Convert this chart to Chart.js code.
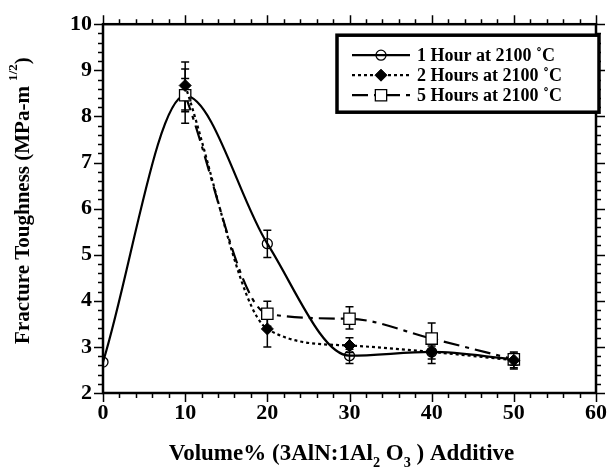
<!DOCTYPE html>
<html>
<head>
<meta charset="utf-8">
<script src="https://cdn.jsdelivr.net/npm/chart.js@4.4.0/dist/chart.umd.min.js"></script>
<style>
    html, body { margin: 0; padding: 0; background: #fff; }
    #wrap { width: 614px; height: 467px; }
</style>
</head>
<body>
<div id="wrap"><canvas id="toughnessChart"></canvas></div>
<script>
// --- data ---
const additive = [0, 10, 20, 30, 40, 50];
const seriesLabels = ['1 Hour at 2100 \u02DAC', '2 Hours at 2100 \u02DAC', '5 Hours at 2100 \u02DAC'];

const oneHour = [2.67, 8.45, 5.24, 2.81, 2.89, 2.73];
const oneHourErr = [null, [8.14, 8.82], [4.94, 5.53], [2.64, 2.95], [2.74, 3.02], [2.6, 2.86]];

const twoHours = [null, 8.67, 3.39, 3.03, 2.89, 2.71];
const twoHoursErr = [null, [7.85, 9.18], [3.0, 3.7], [2.88, 3.2], [2.64, 3.08], [2.55, 2.85]];

const fiveHours = [null, 8.46, 3.72, 3.61, 3.18, 2.73];
const fiveHoursErr = [null, [8.1, 9.03], [3.45, 3.99], [3.39, 3.87], [2.95, 3.52], [2.52, 2.89]];

const xRange = [0, 60];
const yRange = [2, 10];

const FONT = '"Liberation Serif", "Times New Roman", serif';

function toPoints(values) {
    return additive
        .map((x, i) => ({ x: x, y: values[i] }))
        .filter(p => p.y !== null);
}

// --- error bars, drawn under the markers ---
const errorBars = {
    id: 'errorBars',
    beforeDatasetsDraw(chart) {
        const { ctx, scales: { x, y } } = chart;
        ctx.save();
        ctx.strokeStyle = '#000';
        ctx.lineWidth = 1.5;
        chart.data.datasets.forEach(ds => {
            ds.errors.forEach((err, i) => {
                if (!err) return;
                const px = x.getPixelForValue(additive[i]);
                const lo = y.getPixelForValue(err[0]);
                const hi = y.getPixelForValue(err[1]);
                ctx.beginPath();
                ctx.moveTo(px, lo); ctx.lineTo(px, hi);
                ctx.moveTo(px - 4, lo); ctx.lineTo(px + 4, lo);
                ctx.moveTo(px - 4, hi); ctx.lineTo(px + 4, hi);
                ctx.stroke();
            });
        });
        ctx.restore();
    }
};

// --- box frame with major/minor ticks on all four sides ---
const frameTicks = {
    id: 'frameTicks',
    afterDatasetsDraw(chart) {
        const { ctx, chartArea: a, scales: { x, y } } = chart;
        ctx.save();
        ctx.strokeStyle = '#000';
        ctx.lineWidth = 1.5;
        ctx.beginPath();
        for (let v = xRange[0]; v <= xRange[1]; v += 2) {
            const px = Math.round(x.getPixelForValue(v)) + 0.5;
            const len = v % 10 === 0 ? 9 : 5;
            ctx.moveTo(px, a.bottom); ctx.lineTo(px, a.bottom + len);
            ctx.moveTo(px, a.top); ctx.lineTo(px, a.top - len);
        }
        for (let k = 0; k <= 40; k++) {
            const v = yRange[0] + k * 0.2;
            const py = Math.round(y.getPixelForValue(v)) + 0.5;
            const len = k % 5 === 0 ? 9 : 5;
            ctx.moveTo(a.left, py); ctx.lineTo(a.left - len, py);
            ctx.moveTo(a.right, py); ctx.lineTo(a.right + len, py);
        }
        ctx.stroke();
        ctx.lineWidth = 2.5;
        ctx.strokeRect(a.left, a.top, a.right - a.left, a.bottom - a.top);
        ctx.restore();
    }
};

// draw text made of runs, some of them sub/superscript
function drawRuns(ctx, runs, cx, baseY, size) {
    const widths = runs.map(r => {
        ctx.font = 'bold ' + (r.dy ? size * 0.62 : size) + 'px ' + FONT;
        return ctx.measureText(r.text).width;
    });
    let x = cx - widths.reduce((s, w) => s + w, 0) / 2;
    runs.forEach((r, i) => {
        ctx.font = 'bold ' + (r.dy ? size * 0.62 : size) + 'px ' + FONT;
        ctx.fillText(r.text, x, baseY + (r.dy || 0) * size);
        x += widths[i];
    });
}

const xTitleRuns = [
    { text: 'Volume% (3AlN:1Al' }, { text: '2', dy: 0.3 }, { text: ' O' },
    { text: '3', dy: 0.3 }, { text: ' ) Additive' }
];
const yTitleRuns = [
    { text: 'Fracture Toughness (MPa-m ' }, { text: '1/2', dy: -0.55 }, { text: ')' }
];

const axisTitles = {
    id: 'axisTitles',
    afterDraw(chart) {
        const { ctx, chartArea: a } = chart;
        ctx.save();
        ctx.fillStyle = '#000';
        ctx.textAlign = 'left';
        ctx.textBaseline = 'alphabetic';
        drawRuns(ctx, xTitleRuns, (a.left + a.right) / 2 - 8, 460, 23);
        ctx.translate(29, (a.top + a.bottom) / 2 - 8);
        ctx.rotate(-Math.PI / 2);
        drawRuns(ctx, yTitleRuns, 0, 0, 21);
        ctx.restore();
    }
};

// --- boxed legend with line samples ---
const boxLegend = {
    id: 'boxLegend',
    afterDraw(chart) {
        const { ctx, chartArea: a } = chart;
        const left = a.left + 234, top = a.top + 11, w = 262, h = 77;
        ctx.save();
        ctx.strokeStyle = '#000';
        ctx.lineWidth = 3.5;
        ctx.fillStyle = '#fff';
        ctx.fillRect(left, top, w, h);
        ctx.strokeRect(left, top, w, h);
        chart.data.datasets.forEach((ds, i) => {
            const cy = top + 20 + i * 20;
            ctx.lineWidth = ds.borderWidth;
            ctx.setLineDash(ds.borderDash || []);
            ctx.beginPath();
            ctx.moveTo(left + 15, cy); ctx.lineTo(left + 73, cy);
            ctx.stroke();
            ctx.setLineDash([]);
            const mx = left + 44;
            const r = ds.pointRadius;
            ctx.lineWidth = ds.pointBorderWidth;
            ctx.fillStyle = ds.pointBackgroundColor;
            ctx.beginPath();
            if (ds.pointStyle === 'circle') {
                ctx.arc(mx, cy, r, 0, Math.PI * 2);
            } else if (ds.pointStyle === 'rectRot') {
                ctx.moveTo(mx, cy - r); ctx.lineTo(mx + r, cy);
                ctx.lineTo(mx, cy + r); ctx.lineTo(mx - r, cy); ctx.closePath();
            } else {
                const s = r * Math.SQRT1_2;
                ctx.rect(mx - s, cy - s, 2 * s, 2 * s);
            }
            ctx.fill();
            ctx.stroke();
            ctx.fillStyle = '#000';
            ctx.font = 'bold 18px ' + FONT;
            ctx.textBaseline = 'middle';
            ctx.fillText(ds.label, left + 80, cy + 1);
        });
        ctx.restore();
    }
};

const ctx = document.getElementById('toughnessChart');
new Chart(ctx, {
    type: 'line',
    data: {
        datasets: [{
            label: seriesLabels[0],
            data: toPoints(oneHour),
            errors: oneHourErr,
            borderColor: '#000',
            borderWidth: 2.2,
            cubicInterpolationMode: 'monotone',
            pointStyle: 'circle',
            pointRadius: 5,
            pointBorderWidth: 1.3,
            pointBorderColor: '#000',
            pointBackgroundColor: 'rgba(255,255,255,0)',
            order: 3
        }, {
            label: seriesLabels[1],
            data: toPoints(twoHours),
            errors: twoHoursErr,
            borderColor: '#000',
            borderWidth: 2.2,
            borderDash: [3, 3],
            cubicInterpolationMode: 'monotone',
            pointStyle: 'rectRot',
            pointRadius: 6,
            pointBorderWidth: 1,
            pointBorderColor: '#000',
            pointBackgroundColor: '#000',
            order: 1
        }, {
            label: seriesLabels[2],
            data: toPoints(fiveHours),
            errors: fiveHoursErr,
            borderColor: '#000',
            borderWidth: 2.2,
            borderDash: [16, 6, 4, 6],
            cubicInterpolationMode: 'monotone',
            pointStyle: 'rect',
            pointRadius: 8,
            pointBorderWidth: 1.3,
            pointBorderColor: '#000',
            pointBackgroundColor: '#fff',
            order: 2
        }]
    },
    options: {
        responsive: true,
        maintainAspectRatio: false,
        animation: false,
        layout: { padding: { top: 21, right: 11, left: 0, bottom: 0 } },
        plugins: {
            legend: { display: false },
            tooltip: { enabled: false }
        },
        scales: {
            x: {
                type: 'linear',
                min: xRange[0],
                max: xRange[1],
                afterFit(scale) { scale.height = 74; },
                grid: { display: false, drawTicks: false },
                border: { display: false },
                ticks: {
                    stepSize: 10,
                    padding: 7,
                    color: '#000',
                    maxRotation: 0,
                    font: { family: FONT, size: 22, weight: 'bold' }
                }
            },
            y: {
                min: yRange[0],
                max: yRange[1],
                afterFit(scale) { scale.width = 103; },
                grid: { display: false, drawTicks: false },
                border: { display: false },
                ticks: {
                    stepSize: 1,
                    padding: 11,
                    color: '#000',
                    font: { family: FONT, size: 22, weight: 'bold' }
                }
            }
        }
    },
    plugins: [errorBars, frameTicks, axisTitles, boxLegend]
});
</script>
</body>
</html>
